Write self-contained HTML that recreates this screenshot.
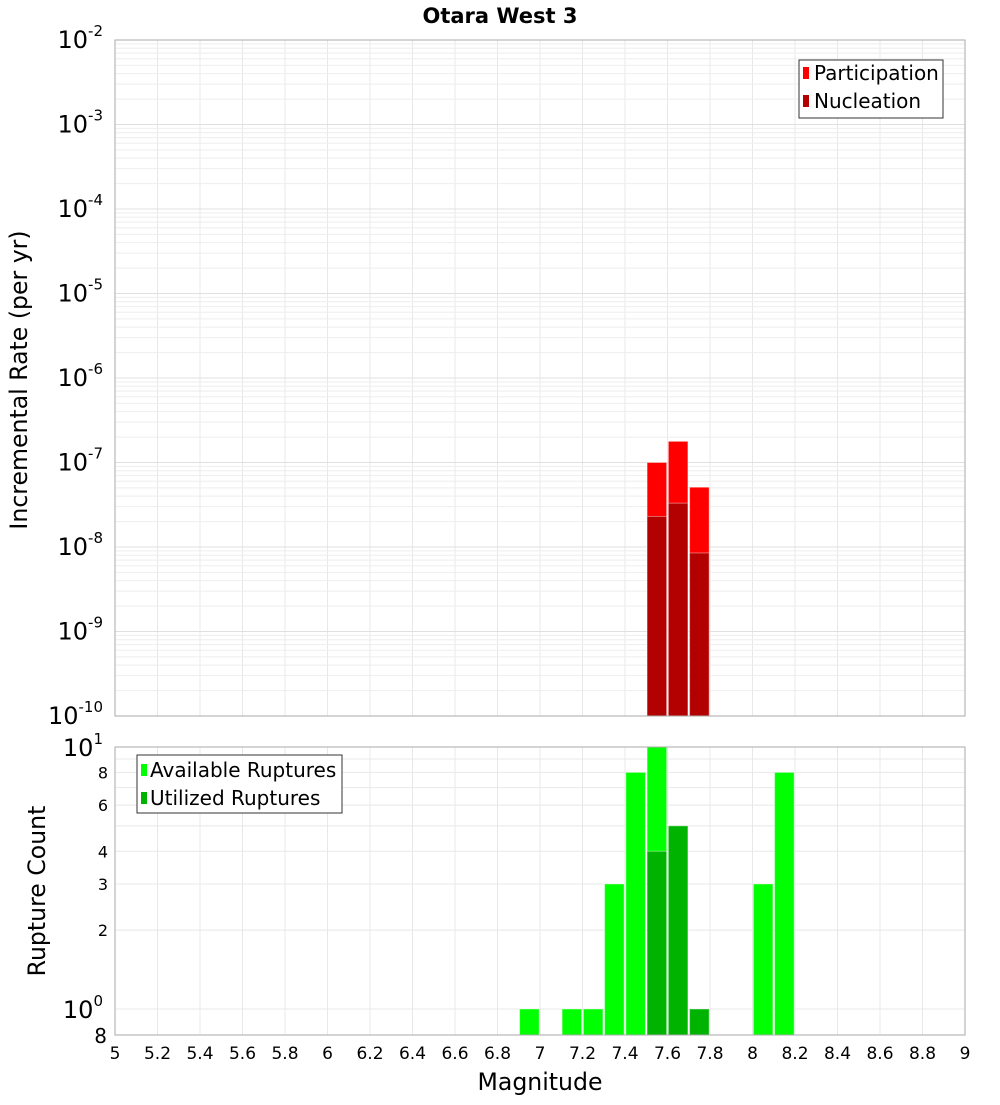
<!DOCTYPE html>
<html><head><meta charset="utf-8"><style>
body{margin:0;background:#fff;}
svg text{font-family:"DejaVu Sans","Liberation Sans",sans-serif;}
</style></head><body>
<svg id="c" width="1000" height="1100" xmlns="http://www.w3.org/2000/svg">
<text x="500" y="23" text-anchor="middle" font-size="21" font-weight="bold">Otara West 3</text>
<g id="gtop"></g>
<g id="gbot"></g>
<text transform="translate(27,380) rotate(-90)" text-anchor="middle" font-size="23.6">Incremental Rate (per yr)</text>
<text transform="translate(45,891) rotate(-90)" text-anchor="middle" font-size="23.6">Rupture Count</text>
<text x="540" y="1090" text-anchor="middle" font-size="23.6">Magnitude</text>
<g>
<rect x="799" y="60" width="144" height="58" fill="#fff" stroke="#333"/>
<rect x="803" y="67" width="6" height="12" fill="#ff0000"/>
<text x="814" y="80" font-size="20">Participation</text>
<rect x="803" y="95" width="6" height="12" fill="#b30000"/>
<text x="814" y="108" font-size="20">Nucleation</text>
</g>
<g>
<rect x="137" y="755" width="205" height="58" fill="#fff" stroke="#333"/>
<rect x="141" y="764" width="6" height="12" fill="#00ff00"/>
<text x="150" y="777" font-size="20">Available Ruptures</text>
<rect x="141" y="792" width="6" height="12" fill="#00b300"/>
<text x="150" y="805" font-size="20">Utilized Ruptures</text>
</g>
</svg>
<script>
const rateMags=[7.55,7.65,7.75];
const participation=[1.0e-7,1.78e-7,5.1e-8];
const nucleation=[2.3e-8,3.3e-8,8.5e-9];
const countMags=[6.95,7.15,7.25,7.35,7.45,7.55,7.65,7.75,8.05,8.15];
const available=[1,1,1,3,8,10,5,1,3,8];
const utilMags=[7.55,7.65,7.75];
const utilized=[4,5,1];
const xTicks=["5","5.2","5.4","5.6","5.8","6","6.2","6.4","6.6","6.8","7","7.2","7.4","7.6","7.8","8","8.2","8.4","8.6","8.8","9"];
const topExps=[-2,-3,-4,-5,-6,-7,-8,-9,-10];
const botTicks=[8,6,4,3,2];

const NS="http://www.w3.org/2000/svg";
const X0=115,X1=965,TT=40,TB=716,BT=747,BB=1035;
const xs=m=>X0+(m-5)/4*(X1-X0);
const yTop=v=>TT+(-2-Math.log10(v))/8*(TB-TT);
const yBot=v=>1009-Math.log10(v)*262;
function mk(p,t,a){const e=document.createElementNS(NS,t);for(const k in a)e.setAttribute(k,a[k]);p.appendChild(e);return e;}
const gTop=document.getElementById('gtop'),gBot=document.getElementById('gbot'),svg=document.getElementById('c');

mk(gTop,'rect',{x:X0,y:TT,width:X1-X0,height:TB-TT,fill:'#fff'});
mk(gBot,'rect',{x:X0,y:BT,width:X1-X0,height:BB-BT,fill:'#fff'});
xTicks.forEach(t=>{const x=xs(+t);
 mk(gTop,'line',{x1:x,x2:x,y1:TT,y2:TB,stroke:'#e8e8e8'});
 mk(gBot,'line',{x1:x,x2:x,y1:BT,y2:BB,stroke:'#e8e8e8'});
 const e=mk(svg,'text',{x:x,y:1059,'text-anchor':'middle','font-size':17});e.textContent=t;
 
 
});
for(let ex=-10;ex<-2;ex++){for(let k=1;k<10;k++){const y=yTop(k*Math.pow(10,ex));
 mk(gTop,'line',{x1:X0,x2:X1,y1:y,y2:y,stroke:k==1?'#e0e0e0':'#eeeeee'});}}
topExps.forEach(ex=>{const y=yTop(Math.pow(10,ex));
 const t=mk(svg,'text',{x:103,y:y+8,'text-anchor':'end','font-size':24});
 t.innerHTML='10<tspan dy="-12" font-size="15">'+ex+'</tspan>';
 
 
});
for(let v=1;v<=10;v++){const y=yBot(v);mk(gBot,'line',{x1:X0,x2:X1,y1:y,y2:y,stroke:'#e8e8e8'});}
[[10,'1',747],[1,'0',1009]].forEach(([v,e,y])=>{const t=mk(svg,'text',{x:103,y:y+9,'text-anchor':'end','font-size':24});
 t.innerHTML='10<tspan dy="-12" font-size="15">'+e+'</tspan>';
 
 });
botTicks.forEach(v=>{const t=mk(svg,'text',{x:108,y:yBot(v)+6,'text-anchor':'end','font-size':16});t.textContent=v;
 
 });
const t8=mk(svg,'text',{x:107,y:1043,'text-anchor':'end','font-size':20});t8.textContent='8';


const bw=0.092;
function bar(g,m,yv,base,fill){const x=xs(m-bw/2);const w=xs(m+bw/2)-x;
 return mk(g,'rect',{x:x,y:yv,width:w,height:base-yv,fill:fill,stroke:'#fff','stroke-opacity':0.4,'stroke-width':1});}
rateMags.forEach((m,i)=>{const r=bar(gTop,m,yTop(participation[i]),TB,'#ff0000');
 
 });
rateMags.forEach((m,i)=>{const r=bar(gTop,m,yTop(nucleation[i]),TB,'#b30000');
 
 });
countMags.forEach((m,i)=>{const r=bar(gBot,m,yBot(available[i]),BB,'#00ff00');
 
 });
utilMags.forEach((m,i)=>{const r=bar(gBot,m,yBot(utilized[i]),BB,'#00b300');
 
 });
mk(gTop,'rect',{x:X0,y:TT,width:X1-X0,height:TB-TT,fill:'none',stroke:'#aaa'});
mk(gBot,'rect',{x:X0,y:BT,width:X1-X0,height:BB-BT,fill:'none',stroke:'#aaa'});
</script>
</body></html>
